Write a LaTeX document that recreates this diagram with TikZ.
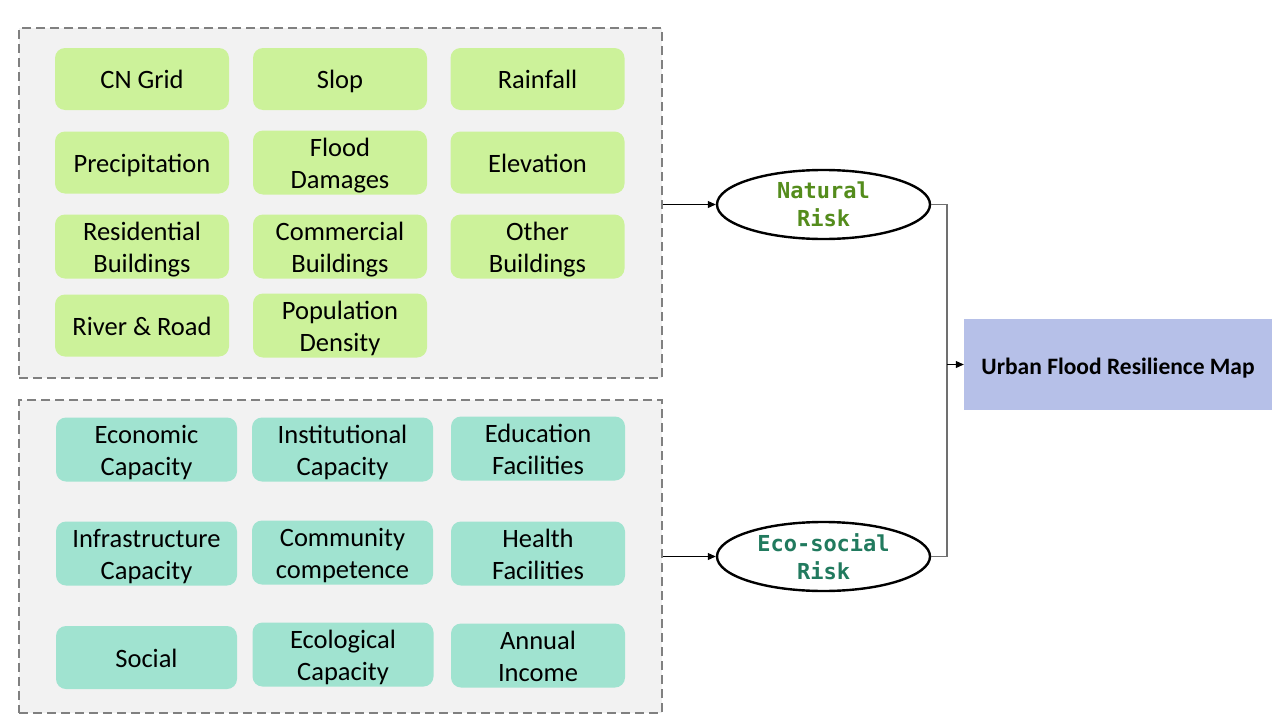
\documentclass[tikz,border=0pt]{standalone}
\usepackage{fontspec}
\setmainfont{Carlito}
\newfontfamily\monof{DejaVu Sans Mono}
\usetikzlibrary{arrows.meta,shapes.geometric}
\definecolor{grpfill}{HTML}{F2F2F2}
\definecolor{grpline}{HTML}{808080}
\definecolor{gfill}{HTML}{CCF29A}
\definecolor{tfill}{HTML}{A0E3D0}
\definecolor{mapfill}{HTML}{B6C0E8}
\definecolor{natcol}{HTML}{548C1C}
\definecolor{ecocol}{HTML}{217A5E}
\definecolor{conn}{HTML}{707070}
\newcommand\twolines[2]{\raisebox{-2pt}[\dimexpr\height+2pt\relax][\dimexpr\depth-2pt\relax]{\begin{tabular}{@{}c@{}}#1\\#2\end{tabular}}}
\begin{document}
\begin{tikzpicture}[x=1pt,y=-1pt,
  grp/.style={draw=grpline,fill=grpfill,dash pattern=on 9pt off 5pt,line width=1.6pt,inner sep=0pt},
  lbl/.style={rounded corners=10pt,inner sep=0pt,align=center,
    font=\fontsize{26.5}{32}\selectfont,text=black},
  oneline/.style={text height=21pt,text depth=2pt},
  gbox/.style={lbl,fill=gfill,minimum width=174pt,minimum height=62pt},
  tbox/.style={lbl,fill=tfill,minimum width=181pt,minimum height=63pt},
  tbox2/.style={lbl,fill=tfill,minimum width=174pt,minimum height=63pt},
  risk/.style={ellipse,draw=black,line width=2.4pt,fill=white,minimum width=213pt,minimum height=69pt,inner sep=0pt,align=center,
    font=\monof\bfseries\fontsize{22}{28}\selectfont},
  arr/.style={-{Triangle[length=8pt,width=7pt]},line width=1pt}
]
\useasboundingbox (0,0) rectangle (1280,720);
% groups
\node[grp,minimum width=643pt,minimum height=350pt] (g1) at (340.5,203) {};
\node[grp,minimum width=643pt,minimum height=313pt] (g2) at (340.5,556.5) {};
% top green boxes
\node[gbox,oneline] (cn) at (142,79) {CN Grid};
\node[gbox,oneline] (slop) at (340,79) {Slop};
\node[gbox,oneline] (rain) at (537.5,79) {Rainfall};
\node[gbox,oneline] (prec) at (142,162.5) {Precipitation};
\node[gbox] (fd) at (340,162.5) {\twolines{Flood}{Damages}};
\node[gbox,oneline] (elev) at (537.5,162.5) {Elevation};
\node[gbox] (res) at (142,246.5) {\twolines{Residential}{Buildings}};
\node[gbox] (com) at (340,246.5) {\twolines{Commercial}{Buildings}};
\node[gbox] (oth) at (537.5,246.5) {\twolines{Other}{Buildings}};
\node[gbox,oneline] (rr) at (142,325.5) {River \& Road};
\node[gbox] (pop) at (340,325.5) {\twolines{Population}{Density}};
% bottom teal boxes
\node[tbox] (eco) at (146.5,449.5) {\twolines{Economic}{Capacity}};
\node[tbox] (inst) at (342.5,449.5) {\twolines{Institutional}{Capacity}};
\node[tbox2] (edu) at (538,448.5) {\twolines{Education}{Facilities}};
\node[tbox] (infra) at (146.5,553.5) {\twolines{Infrastructure}{Capacity}};
\node[tbox] (comm) at (342.5,552.5) {\twolines{Community}{competence}};
\node[tbox2] (hlth) at (538,553.5) {\twolines{Health}{Facilities}};
\node[tbox,oneline] (soc) at (146.5,657.5) {Social};
\node[tbox] (ecol) at (343,654.5) {\twolines{Ecological}{Capacity}};
\node[tbox2] (inc) at (538,655.5) {\twolines{Annual}{Income}};
% risks
\node[risk,text=natcol] (nat) at (823.5,204.5) {Natural\\Risk};
\node[risk,text=ecocol] (ecor) at (823.5,556.5) {Eco-social\\Risk};
% map
\node[fill=mapfill,minimum width=308pt,minimum height=91pt,inner sep=0pt,text height=19pt,text depth=0pt,
  font=\bfseries\fontsize{23.5}{28}\selectfont] (map) at (1118,364.5) {Urban Flood Resilience Map};
% connectors
\draw[arr] (g1.east |- nat.west) -- (nat.west);
\draw[arr] (g2.east |- ecor.west) -- (ecor.west);
\coordinate (j) at (947,0);
\draw[conn,line width=1.3pt] (nat.east) -- (j |- nat.east) -- (j |- ecor.east) -- (ecor.east);
\draw[arr] (j |- map.west) -- (map.west);
\end{tikzpicture}
\end{document}
